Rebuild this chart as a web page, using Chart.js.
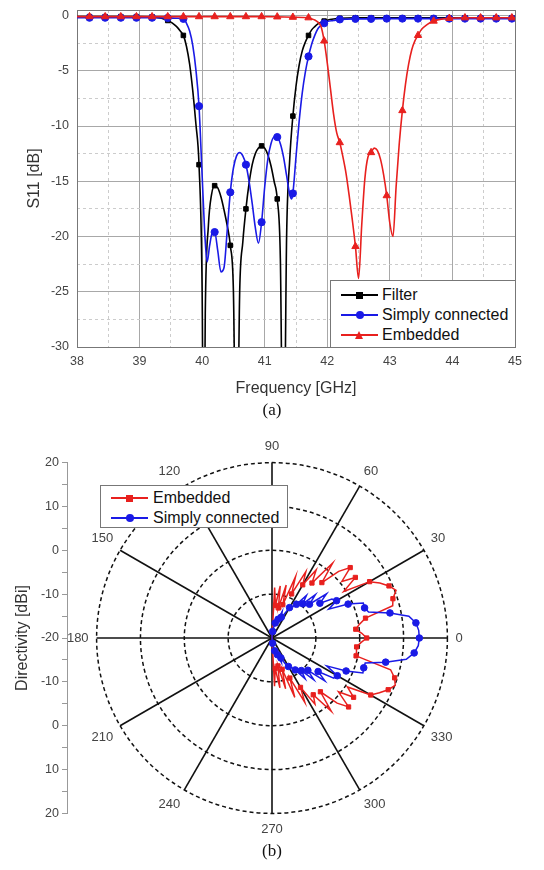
<!DOCTYPE html>
<html>
<head>
<meta charset="utf-8">
<script src="https://cdn.jsdelivr.net/npm/chart.js"></script>
<style>
  body { margin: 0; background: #fff; }
  #page { position: relative; width: 544px; height: 870px; overflow: hidden; font-family: "Liberation Sans", Arial, sans-serif; }
  canvas { position: absolute; left: 0; }
  .legend { position: absolute; background: #fff; border: 1px solid #777; box-sizing: border-box; font-size: 16px; color: #111; }
  .row { position: absolute; left: 0; width: 100%; height: 20px; line-height: 20px; }
  .swatch { position: absolute; left: 10px; top: 9px; width: 37px; height: 2px; }
  .sq { position: absolute; left: 25px; top: 6.5px; width: 7px; height: 7px; }
  .ci { position: absolute; left: 24.5px; top: 6px; width: 8px; height: 8px; border-radius: 50%; }
  .tri { position: absolute; left: 24px; top: 5.5px; width: 0; height: 0; border-left: 4.5px solid transparent; border-right: 4.5px solid transparent; border-bottom: 8px solid #e8201e; }
  .txt { position: absolute; left: 51px; top: 0; white-space: nowrap; }
  .cap { position: absolute; left: 0; width: 544px; text-align: center; font-family: "Liberation Serif", "Times New Roman", serif; font-size: 17px; color: #111; height: 22px; line-height: 22px; }
</style>
</head>
<body>
<div id="page">
  <canvas id="s11" width="544" height="400" style="top:0"></canvas>
  <div class="legend" style="left:330px;top:280px;width:186px;height:68px">
    <div class="row" style="top:4px"><span class="swatch" style="background:#000"></span><span class="sq" style="background:#000"></span><span class="txt">Filter</span></div>
    <div class="row" style="top:24px"><span class="swatch" style="background:#1a1ae6"></span><span class="ci" style="background:#1a1ae6"></span><span class="txt">Simply connected</span></div>
    <div class="row" style="top:44px"><span class="swatch" style="background:#e8201e"></span><span class="tri"></span><span class="txt">Embedded</span></div>
  </div>
  <div class="cap" style="top:399px">(a)</div>

  <canvas id="polar" width="544" height="414" style="top:432px"></canvas>
  <canvas id="dirAxis" width="80" height="414" style="top:432px"></canvas>
  <div class="legend" style="left:100px;top:485px;width:188px;height:43px">
    <div class="row" style="top:2px"><span class="swatch" style="background:#e8201e"></span><span class="sq" style="background:#e8201e"></span><span class="txt" style="left:52px">Embedded</span></div>
    <div class="row" style="top:22px"><span class="swatch" style="background:#1a1ae6"></span><span class="ci" style="background:#1a1ae6"></span><span class="txt" style="left:52px">Simply connected</span></div>
  </div>
  <div class="cap" style="top:840px">(b)</div>
</div>

<script>
// ---- (a) S11 vs frequency ----
const filterFreq = [38.0, 38.2, 38.45, 38.7, 38.95, 39.2, 39.35, 39.45,
  39.5, 39.55, 39.6, 39.65, 39.7, 39.75, 39.8, 39.85, 39.9, 39.95,
  40.0, 40.025, 40.05,
  40.1, 40.15, 40.2, 40.25, 40.3, 40.35, 40.4, 40.45, 40.5, 40.55, 40.6, 40.65, 40.7,
  40.75, 40.8, 40.85, 40.9, 40.95, 41.0, 41.05, 41.1, 41.15, 41.2, 41.25, 41.3, 41.35,
  41.4, 41.45, 41.5, 41.55, 41.6, 41.65, 41.7, 41.75, 41.8, 41.85, 41.9, 41.95, 42.0,
  42.1, 42.2,
  42.45, 42.7, 42.95, 43.2, 43.45, 43.7, 43.95, 44.2, 44.45, 44.7, 44.95, 45.0];
const filterS11 = [-0.1, -0.1, -0.1, -0.1, -0.1, -0.12, -0.25, -0.45,
  -0.6, -0.8, -1.05, -1.4, -1.8, -2.8, -4.4, -6.8, -9.8, -13.5,
  -25, -45, -27,
  -19, -16.2, -15.4, -15.6, -16.4, -17.6, -19.0, -20.8, -25, -45, -25, -20.5, -17.5,
  -15.2, -13.5, -12.5, -12.0, -11.8, -12.0, -12.6, -13.6, -15.0, -16.6, -22, -45, -20,
  -13.0, -9.1, -6.4, -4.5, -3.2, -2.4, -1.8, -1.3, -1.0, -0.75, -0.6, -0.5, -0.42,
  -0.32, -0.25,
  -0.2, -0.2, -0.2, -0.2, -0.2, -0.2, -0.2, -0.2, -0.2, -0.2, -0.2, -0.2];

const simplyFreq = [38.0, 38.2, 38.45, 38.7, 38.95, 39.2, 39.45, 39.6,
  39.7, 39.75, 39.8, 39.85, 39.9, 39.95, 40.0, 40.05,
  40.08, 40.12, 40.16,
  40.2, 40.25, 40.3, 40.35, 40.4, 40.45, 40.5, 40.55, 40.6, 40.65, 40.7, 40.75, 40.8,
  40.85, 40.9, 40.95, 41.0, 41.05, 41.1, 41.15, 41.2, 41.25, 41.3, 41.35, 41.4,
  41.43,
  41.45, 41.5, 41.55, 41.6, 41.65, 41.7, 41.75, 41.8, 41.85, 41.9, 41.95, 42.0,
  42.1, 42.2,
  42.45, 42.7, 42.95, 43.2, 43.45, 43.7, 43.95, 44.2, 44.45, 44.7, 44.95, 45.0];
const simplyS11 = [-0.2, -0.2, -0.2, -0.2, -0.2, -0.2, -0.22, -0.25,
  -0.3, -0.7, -1.4, -2.7, -4.9, -8.2, -14.5, -20.5,
  -22.3, -20.8, -19.7,
  -19.6, -21.3, -23.2, -22.8, -19.5, -16.0, -13.8, -12.7, -12.4, -12.7, -13.5, -15.0, -17.0,
  -19.2, -20.6, -18.7, -15.5, -13.0, -11.6, -11.0, -11.0, -11.6, -12.8, -14.5, -16.2,
  -16.6,
  -16.1, -12.8, -9.6, -7.0, -5.1, -3.7, -2.6, -1.8, -1.2, -0.9, -0.7, -0.55,
  -0.45, -0.35,
  -0.3, -0.3, -0.28, -0.28, -0.28, -0.28, -0.28, -0.28, -0.28, -0.28, -0.28, -0.28];

const embeddedFreq = [38.0, 38.2, 38.45, 38.7, 38.95, 39.2, 39.45, 39.7, 39.95,
  40.2, 40.45, 40.7, 40.95, 41.2, 41.45, 41.7,
  41.75, 41.8, 41.85, 41.9, 41.95, 42.0, 42.05, 42.1, 42.15, 42.2, 42.25, 42.3,
  42.35, 42.4, 42.45, 42.5, 42.55, 42.6, 42.65, 42.7, 42.75, 42.8, 42.85, 42.9,
  42.95, 43.0, 43.05, 43.1, 43.15, 43.2, 43.25, 43.3, 43.35, 43.4, 43.45, 43.5,
  43.6, 43.7, 43.8,
  43.95, 44.2, 44.45, 44.7, 44.95, 45.0];
const embeddedS11 = [-0.1, -0.1, -0.1, -0.1, -0.1, -0.1, -0.1, -0.1, -0.1,
  -0.1, -0.1, -0.1, -0.1, -0.12, -0.15, -0.2,
  -0.3, -0.4, -0.6, -1.0, -2.3, -4.3, -6.6, -8.9, -10.6, -11.5, -12.8, -14.3,
  -16.3, -18.5, -20.9, -23.8, -19.0, -14.8, -12.8, -12.4, -12.0, -12.2, -13.0, -14.4,
  -16.3, -18.8, -20.0, -15.5, -11.6, -8.6, -6.2, -4.4, -3.1, -2.3, -1.8, -1.3,
  -0.8, -0.5, -0.35,
  -0.25, -0.2, -0.2, -0.2, -0.2, -0.2];

// ---- (b) directivity pattern ----
const polarAngles = [-90, -87, -84, -81, -78, -75, -72, -69, -66, -63, -60, -57, -54, -51, -48, -45,
  -42, -39, -36, -33, -30, -27, -24, -21, -18, -15, -12, -9, -6, -3,
  0, 3, 6, 9, 12, 15, 18, 21, 24, 27, 30, 33, 36, 39, 42, 45,
  48, 51, 54, 57, 60, 63, 66, 69, 72, 75, 78, 81, 84, 87, 90];
const embeddedDir = [-20, -9.0, -13.0, -8.5, -13.5, -8.0, -12.5, -5.5, -10.0, -3.5, -7.0, -2.0, -4.0, 1.5, -3.5, 1.0,
  3.5, -0.5, 3.0, 0.5, 6.0, 7.5, 9.0, 10.1, 9.4, 8.0, -0.4, -0.5, -0.6, 0.3,
  1.6, 0.5, -0.8, 0.2, 1.8, 8.5, 9.0, 10.3, 9.2, 7.6, 5.7, -0.5, 3.5, 0.5, 4.0, 1.5,
  -3.0, 2.0, -4.5, -1.5, -6.0, -3.0, -9.0, -5.0, -12.0, -7.5, -13.0, -8.0, -12.5, -8.5, -20];
const simplyDir = [-20, -19.5, -18.8, -18.0, -17.0, -16.5, -16.0, -14.0, -15.0, -13.5, -12.5, -12.0, -11.0, -8.0, -10.0, -6.5,
  -9.0, -4.5, -7.0, -3.2, -2.8, -6.0, -1.5, 2.2, 2.0, 2.0, 6.5, 11.0, 12.6, 13.4,
  13.6, 13.5, 13.0, 11.6, 7.5, 2.8, 2.2, 2.3, -1.0, -5.5, -3.0, -3.7, -6.5, -4.0, -8.5, -6.0,
  -9.5, -7.5, -10.5, -11.5, -12.0, -14.0, -14.8, -13.5, -15.5, -16.0, -16.5, -17.5, -18.5, -19.3, -20];
const angleTickLabels = ['0', '30', '60', '90', '120', '150', '180', '210', '240', '270', '300', '330'];
const dirTickLabels = ['20', '10', '0', '-10', '-20', '-10', '0', '10', '20'];

Chart.defaults.font.family = '"Liberation Sans", Arial, sans-serif';
Chart.defaults.color = '#444';

const FRAME = '#777';
const GRID = '#a8a8a8';
const MINOR = '#cccccc';
const RED = '#e8201e';
const BLUE = '#1a1ae6';

function isMarker(f) {
  const k = (f - 38.2) / 0.25;
  return k > -1e-6 && Math.abs(k - Math.round(k)) < 1e-6;
}
function toPoints(freq, vals) {
  return freq.map((f, i) => ({ x: f, y: vals[i] }));
}
function markerSize(r) {
  return c => (c.raw && isMarker(c.raw.x)) ? r : 0;
}

new Chart(document.getElementById('s11'), {
  type: 'line',
  data: {
    datasets: [
      { label: 'Filter', data: toPoints(filterFreq, filterS11), borderColor: '#000', order: 2,
        pointBackgroundColor: '#000', pointBorderColor: '#000', pointStyle: 'rect', pointRadius: markerSize(3.2) },
      { label: 'Simply connected', data: toPoints(simplyFreq, simplyS11), borderColor: BLUE, order: 1,
        pointBackgroundColor: BLUE, pointBorderColor: BLUE, pointStyle: 'circle', pointRadius: markerSize(3.6) },
      { label: 'Embedded', data: toPoints(embeddedFreq, embeddedS11), borderColor: RED, order: 0,
        pointBackgroundColor: RED, pointBorderColor: RED, pointStyle: 'triangle', pointRadius: markerSize(4.2) }
    ]
  },
  options: {
    responsive: false,
    animation: false,
    events: [],
    devicePixelRatio: 1,
    layout: { padding: { top: 10, right: 29, left: 0, bottom: 0 } },
    plugins: { legend: { display: false }, tooltip: { enabled: false } },
    elements: {
      line: { borderWidth: 1.6, cubicInterpolationMode: 'monotone' },
      point: { borderWidth: 1 }
    },
    scales: {
      x: {
        type: 'linear', position: 'bottom', min: 38, max: 45,
        ticks: { stepSize: 1, padding: 7, font: { size: 12.5 }, color: '#444' },
        grid: { drawTicks: false, color: c => (c.tick && (c.tick.value === 38 || c.tick.value === 45)) ? FRAME : GRID },
        border: { color: FRAME },
        title: { display: true, text: 'Frequency [GHz]', font: { size: 16 }, color: '#333', padding: { top: 0, bottom: 2 } },
        afterFit: s => { s.height = 53; }
      },
      xMinor: {
        type: 'linear', axis: 'x', position: 'bottom', min: 38, max: 45,
        ticks: { display: false, stepSize: 0.5 },
        grid: { drawTicks: false, color: c => (c.tick && Math.abs(c.tick.value % 1) > 1e-6) ? MINOR : 'rgba(0,0,0,0)' },
        border: { display: false, dash: [3, 3] },
        afterFit: s => { s.height = 0; }
      },
      xTop: {
        type: 'linear', axis: 'x', position: 'top', min: 38, max: 45,
        ticks: { display: false }, grid: { display: false },
        border: { color: FRAME },
        afterFit: s => { s.height = 0; }
      },
      y: {
        type: 'linear', position: 'left', min: -30, max: 0.5,
        ticks: { stepSize: 5, padding: 8, includeBounds: false, font: { size: 12.5 }, color: '#444' },
        grid: { drawTicks: false, color: GRID },
        border: { color: FRAME },
        title: { display: true, text: 'S11 [dB]', font: { size: 16 }, color: '#333', padding: { top: 25, bottom: 0 } },
        afterFit: s => { s.width = 77; s.paddingTop = 0; s.paddingBottom = 0; }
      },
      yMinor: {
        type: 'linear', axis: 'y', position: 'left', min: -30, max: 0.5,
        ticks: { display: false, stepSize: 2.5, includeBounds: false },
        grid: { drawTicks: false, color: c => (c.tick && Math.abs(c.tick.value % 5) > 1e-6) ? MINOR : 'rgba(0,0,0,0)' },
        border: { display: false, dash: [3, 3] },
        afterFit: s => { s.width = 0; }
      },
      yRight: {
        type: 'linear', axis: 'y', position: 'right', min: -30, max: 0.5,
        ticks: { display: false }, grid: { display: false },
        border: { color: FRAME },
        afterFit: s => { s.width = 0; }
      }
    }
  }
});

// radar positions: index 0 at east, going clockwise in 3 degree steps
const STEPS = 120;
const polarLabels = [];
const embeddedR = [];
const simplyR = [];
for (let i = 0; i < STEPS; i++) {
  const a = (360 - 3 * i) % 360;
  polarLabels.push(a % 30 === 0 ? angleTickLabels[a / 30] : '');
  const signed = a > 180 ? a - 360 : a;
  const k = polarAngles.indexOf(signed);
  embeddedR.push(k >= 0 ? embeddedDir[k] : null);
  simplyR.push(k >= 0 ? simplyDir[k] : null);
}
function polarMarker(r) {
  return c => {
    const a = (360 - 3 * c.dataIndex) % 360;
    return (c.raw !== null && c.raw !== undefined && c.raw > -20 && a % 6 === 0) ? r : 0;
  };
}

const polarCanvas = document.getElementById('polar');
const polarChart = new Chart(polarCanvas, {
  type: 'radar',
  data: {
    labels: polarLabels,
    datasets: [
      { label: 'Simply connected', data: simplyR, borderColor: BLUE, backgroundColor: BLUE,
        pointBackgroundColor: BLUE, pointBorderColor: BLUE, pointStyle: 'circle', pointRadius: polarMarker(3.3), fill: false },
      { label: 'Embedded', data: embeddedR, borderColor: RED, backgroundColor: RED,
        pointBackgroundColor: RED, pointBorderColor: RED, pointStyle: 'rect', pointRadius: polarMarker(3), fill: false }
    ]
  },
  options: {
    responsive: false,
    animation: false,
    events: [],
    devicePixelRatio: 1,
    layout: { padding: 8 },
    plugins: { legend: { display: false }, tooltip: { enabled: false } },
    elements: { line: { borderWidth: 1.5, tension: 0 }, point: { borderWidth: 1 } },
    scales: {
      r: {
        min: -20, max: 20, startAngle: 90,
        ticks: { display: false, stepSize: 10 },
        grid: { circular: true, color: '#111', lineWidth: 1.5 },
        border: { dash: [4, 3] },
        angleLines: { color: '#111', lineWidth: c => (c.index % 10 === 0 ? 1.6 : 0) },
        pointLabels: { padding: 8, font: { size: 13 }, color: '#444' }
      }
    }
  }
});

// left directivity axis, aligned with the radial scale
const rs = polarChart.scales.r;
const topPad = rs.yCenter - rs.drawingArea;
const botPad = polarCanvas.height - (rs.yCenter + rs.drawingArea);
new Chart(document.getElementById('dirAxis'), {
  type: 'scatter',
  data: { datasets: [] },
  options: {
    responsive: false,
    animation: false,
    events: [],
    devicePixelRatio: 1,
    layout: { padding: { top: topPad, bottom: botPad, left: 0, right: 0 } },
    plugins: { legend: { display: false }, tooltip: { enabled: false } },
    scales: {
      x: { display: false, min: 0, max: 1 },
      y: {
        min: -4, max: 4,
        ticks: { stepSize: 0.5, padding: 3, font: { size: 12.5 }, color: '#444',
          callback: v => (Number.isInteger(v) ? dirTickLabels[4 - v] : '') },
        grid: { drawOnChartArea: false, tickLength: 5, tickColor: '#999' },
        border: { color: '#999' },
        title: { display: true, text: 'Directivity [dBi]', font: { size: 16 }, color: '#333', padding: { top: 13, bottom: 0 } },
        afterFit: s => { s.width = 67; }
      }
    }
  }
});
</script>
</body>
</html>
